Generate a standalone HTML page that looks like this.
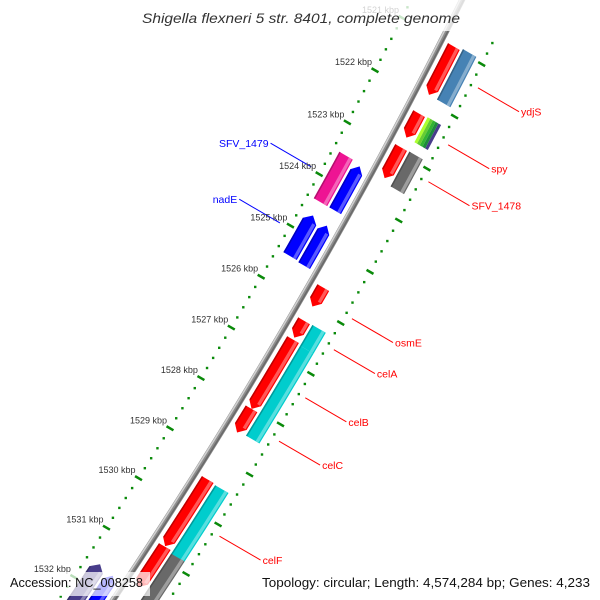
<!DOCTYPE html>
<html><head><meta charset="utf-8"><style>
html,body{margin:0;padding:0;background:#fff;width:600px;height:600px;overflow:hidden}
svg{display:block;overflow:hidden}
text{font-family:"Liberation Sans",sans-serif}
</style></head><body>
<svg id="map" width="600" height="600" viewBox="0 0 600 600" xmlns="http://www.w3.org/2000/svg">
<rect width="600" height="600" fill="#fff"/>
<g id="ticks"></g>
<g id="backbone"></g>
<g id="feats"></g>
<g id="labels"></g>
<g id="ticklabels"></g>
<rect x="134" y="0" width="334" height="31" fill="rgba(255,255,255,0.78)"/>
<text x="301" y="23" text-anchor="middle" font-size="14" font-style="italic" fill="#333" textLength="318" lengthAdjust="spacingAndGlyphs">Shigella flexneri 5 str. 8401, complete genome</text>
<rect x="4" y="572" width="146" height="24" fill="rgba(255,255,255,0.72)"/>
<text x="10" y="587" font-size="13" fill="#111" textLength="133" lengthAdjust="spacingAndGlyphs">Accession: NC_008258</text>
<rect x="256" y="572" width="340" height="24" fill="rgba(255,255,255,0.72)"/>
<text x="590" y="587" font-size="13" fill="#111" text-anchor="end" textLength="328" lengthAdjust="spacingAndGlyphs">Topology: circular; Length: 4,574,284 bp; Genes: 4,233</text>
</svg>
<script>
const featStart=[1520.98,1520.94,1522.26,1522.24,1522.24,1522.24,1522.24,1522.24,1522.91,1522.90,1523.50,1523.54,1524.66,1524.69,1525.63,1526.28,1526.27,1526.65,1528.02,1526.68,1529.43,1530.78,1529.45,1530.83,1531.59,1531.65];
const featEnd=[1521.90,1521.90,1522.72,1522.72,1522.72,1522.72,1522.72,1522.72,1523.50,1523.57,1524.40,1524.40,1525.45,1525.47,1526.00,1526.61,1526.68,1528.02,1528.49,1528.46,1530.77,1531.60,1530.86,1532.70,1532.70,1532.70];
const featLane=['o1','o2','o1','o2a','o2b','o2c','o2d','o2e','o1','o2','i2','i1','i2','i1','o1','o1','o2','o1','o1','o2','o1','o1','o2','o2','i2','i1'];
const featColor=['#ff0000','#4682b4','#ff0000','#adff2f','#66cc33','#32b432','#1e8c3c','#483d8b','#ff0000','#696969','#ee1493','#0000ff','#0000ff','#0000ff','#ff0000','#ff0000','#00cdcd','#ff0000','#ff0000','#00cdcd','#ff0000','#ff0000','#00cdcd','#696969','#483d8b','#0000ff'];
const featDir=[1,0,1,0,0,0,0,0,1,0,0,-1,-1,-1,1,1,0,1,1,0,1,1,0,0,-1,-1];
const labelNames=['ydjS','spy','SFV_1478','osmE','celA','celB','celC','celF','SFV_1479','nadE'];
const labelPos=[1521.38,1522.47,1523.18,1525.84,1526.45,1527.40,1528.26,1530.16,1523.96,1525.05];
const labelSide=[1,1,1,1,1,1,1,1,-1,-1];
const tickMajor=[1521,1522,1523,1524,1525,1526,1527,1528,1529,1530,1531,1532];
const tickLabels=['1521 kbp','1522 kbp','1523 kbp','1524 kbp','1525 kbp','1526 kbp','1527 kbp','1528 kbp','1529 kbp','1530 kbp','1531 kbp','1532 kbp'];

const NS='http://www.w3.org/2000/svg';
const lanes={o1:[7,20.5],o2:[23,38.5],i1:[-20.5,-7],i2:[-38.5,-23],
 o2a:[23,26.1],o2b:[26.1,29.2],o2c:[29.2,32.3],o2d:[32.3,35.4],o2e:[35.4,38.5]};
function T(p){return 104.4+(p-1522)*58.9;}
function P(t,off){const a=t*(694-t)/10940;const o=off+a;return [462-0.503*t+0.865*o,0.865*t+0.503*o];}
function mk(tag,attrs,parent){const e=document.createElementNS(NS,tag);for(const k in attrs)e.setAttribute(k,attrs[k]);parent.appendChild(e);return e;}
function edge(t1,t2,o,n){const r=[];for(let i=0;i<=n;i++){r.push(P(t1+(t2-t1)*i/n,o));}return r;}
function pts(a){return a.map(p=>p[0].toFixed(2)+','+p[1].toFixed(2)).join(' ');}
function mix(hex,c,f){const n=parseInt(hex.slice(1),16);let r=n>>16,g=(n>>8)&255,b=n&255;r=Math.round(r+(c-r)*f);g=Math.round(g+(c-g)*f);b=Math.round(b+(c-b)*f);return 'rgb('+r+','+g+','+b+')';}

// ticks
const tg=document.getElementById('ticks');
for(let k=0;k<=62;k++){
  const p=1520.6+k*0.2; const t=T(p); const major=Math.abs(p-Math.round(p))<0.01;
  [-45.5,46.5].forEach(ring=>{
    if(major){const a=P(t,ring-4),b=P(t,ring+4);
      const l=mk('line',{x1:a[0],y1:a[1],x2:b[0],y2:b[1],stroke:'#0a8a0a','stroke-width':2.5},tg);
      
      
    } else {const c=P(t,ring);
      const r=mk('rect',{x:c[0]-1.2,y:c[1]-1.2,width:2.4,height:2.4,fill:'#0a8a0a'},tg);
      
      
    }
  });
}
// backbone
const bb=document.getElementById('backbone');
const bpath=edge(-40,740,0,40);
const b1=mk('polyline',{points:pts(bpath),fill:'none',stroke:'#8c8c8c','stroke-width':6},bb);


const b2=mk('polyline',{points:pts(edge(-40,740,-1.8,40)),fill:'none',stroke:'#d0d0d0','stroke-width':1.6},bb);


const b3=mk('polyline',{points:pts(edge(-40,740,1.5,40)),fill:'none',stroke:'#6a6a6a','stroke-width':1.6},bb);



// features
const fg=document.getElementById('feats');
for(let i=0;i<featStart.length;i++){
  const t1=T(featStart[i]),t2=T(featEnd[i]);const [o1,o2]=lanes[featLane[i]];const dir=featDir[i];
  const h=Math.min(7,(t2-t1)*0.6);const mid=(o1+o2)/2;let poly;let b1t=t1,b2t=t2;
  if(dir===1){b2t=t2-h;poly=edge(t1,b2t,o1,6).concat([P(t2,mid)]).concat(edge(b2t,t1,o2,6));}
  else if(dir===-1){b1t=t1+h;poly=[P(t1,mid)].concat(edge(b1t,t2,o1,6)).concat(edge(t2,b1t,o2,6));}
  else{poly=edge(t1,t2,o1,6).concat(edge(t2,t1,o2,6));}
  const g=mk('g',{},fg);
  
  
  mk('polygon',{points:pts(poly),fill:featColor[i]},g);
  if(o2-o1>6){
    mk('polygon',{points:pts(edge(b1t,b2t,o2-4.5,6).concat(edge(b2t,b1t,o2-1.2,6))),fill:mix(featColor[i],255,0.35)},g);
    mk('polygon',{points:pts(edge(b1t,b2t,o1,6).concat(edge(b2t,b1t,o1+1.5,6))),fill:mix(featColor[i],0,0.25)},g);
  }
}
// labels
const lg=document.getElementById('labels');
for(let i=0;i<labelNames.length;i++){
  const t=T(labelPos[i]);const s=labelSide[i];const col=s>0?'#ff0000':'#0000ff';
  const a=P(t,s>0?54:-56),b=P(t,s>0?101.5:-103);
  const l=mk('line',{x1:a[0],y1:a[1],x2:b[0],y2:b[1],stroke:col,'stroke-width':1},lg);
  
  
  const tx=mk('text',{x:s>0?b[0]+2:b[0]-2,y:b[1]+4,'font-size':10.5,fill:col,'text-anchor':s>0?'start':'end'},lg);
  tx.textContent=labelNames[i];
  
  
}
// tick labels
const tl=document.getElementById('ticklabels');
for(let i=0;i<tickMajor.length;i++){
  const c=P(T(tickMajor[i]),-45.5);
  const tx=mk('text',{x:c[0]-3,y:c[1]-5,'font-size':9,fill:'#333','text-anchor':'end'},tl);
  tx.textContent=tickLabels[i];
  
  
}
</script>
</body></html>
